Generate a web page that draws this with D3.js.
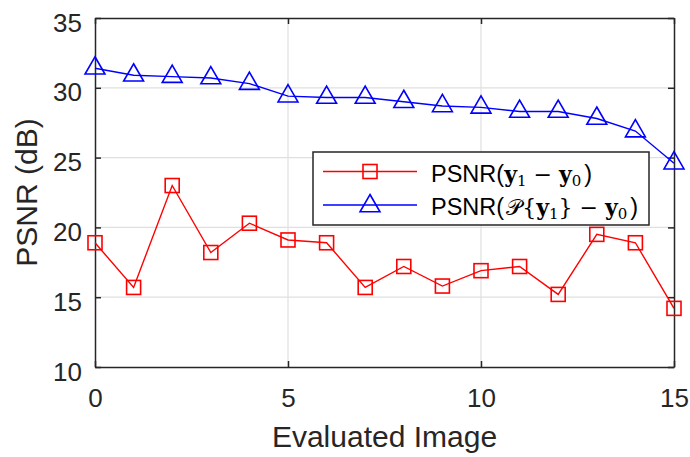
<!DOCTYPE html>
<html>
<head>
<meta charset="utf-8">
<script src="https://cdn.jsdelivr.net/npm/d3@7"></script>
<style>
  html, body { margin: 0; padding: 0; background: #fff; }
  svg { display: block; }
</style>
</head>
<body>
<svg id="chart" width="690" height="457"></svg>
<script>
// Evaluated image index and PSNR values (dB) for the two comparisons
const images = [0, 1, 2, 3, 4, 5, 6, 7, 8, 9, 10, 11, 12, 13, 14, 15];
const psnrDiff = [18.9, 15.7, 23.0, 18.2, 20.3, 19.1, 18.9, 15.7, 17.2, 15.8, 16.9, 17.2, 15.2, 19.5, 18.9, 14.2];
const psnrProj = [31.4, 30.9, 30.8, 30.7, 30.3, 29.4, 29.3, 29.3, 29.0, 28.7, 28.6, 28.3, 28.3, 27.8, 26.9, 24.6];
const xTicks = [0, 5, 10, 15];
const yTicks = [10, 15, 20, 25, 30, 35];
const xTitle = "Evaluated Image";
const yTitle = "PSNR (dB)";

const svg = d3.select("#chart");
const plotL = 95, plotR = 674, plotT = 18, plotB = 367;
const axisColor = "#262626";
const sans = "'Liberation Sans', Arial, Helvetica, sans-serif";
const serif = "'DejaVu Serif', 'Liberation Serif', serif";

const x = d3.scaleLinear().domain([0, 15]).range([plotL, plotR]);
const y = d3.scaleLinear().domain([10, 35]).range([plotB, plotT]);

// grid
const grid = svg.append("g").attr("stroke", "#e0e0e0").attr("stroke-width", 1.2);
grid.selectAll("line.gx").data(xTicks.slice(1, -1)).join("line")
  .attr("x1", d => x(d)).attr("x2", d => x(d)).attr("y1", plotT).attr("y2", plotB);
grid.selectAll("line.gy").data(yTicks.slice(1, -1)).join("line")
  .attr("y1", d => y(d)).attr("y2", d => y(d)).attr("x1", plotL).attr("x2", plotR);

// axes with inward ticks, boxed
function styleAxis(g) {
  g.select(".domain").attr("stroke", axisColor).attr("stroke-width", 1.5);
  g.selectAll(".tick line").attr("stroke", axisColor).attr("stroke-width", 1.5);
  g.selectAll(".tick text").attr("fill", axisColor).attr("font-family", sans).attr("font-size", 26);
}
svg.append("g").attr("transform", `translate(0,${plotB})`)
  .call(d3.axisBottom(x).tickValues(xTicks).tickSize(-6).tickSizeOuter(0).tickPadding(21.5).tickFormat(d3.format("d")))
  .call(styleAxis);
svg.append("g").attr("transform", `translate(0,${plotT})`)
  .call(d3.axisTop(x).tickValues(xTicks).tickSize(-6).tickSizeOuter(0).tickFormat(""))
  .call(styleAxis);
const yAxisG = svg.append("g").attr("transform", `translate(${plotL},0)`)
  .call(d3.axisLeft(y).tickValues(yTicks).tickSize(-6).tickSizeOuter(0).tickPadding(13).tickFormat(d3.format("d")))
  .call(styleAxis);
yAxisG.selectAll(".tick text").attr("dy", "0.5em");
svg.append("g").attr("transform", `translate(${plotR},0)`)
  .call(d3.axisRight(y).tickValues(yTicks).tickSize(-6).tickSizeOuter(0).tickFormat(""))
  .call(styleAxis);

// axis titles
svg.append("text").attr("x", (plotL + plotR) / 2).attr("y", 447)
  .attr("text-anchor", "middle").attr("font-family", sans).attr("font-size", 30)
  .attr("fill", axisColor).text(xTitle);
svg.append("text").attr("transform", `translate(37,${(plotT + plotB) / 2}) rotate(-90)`)
  .attr("text-anchor", "middle").attr("font-family", sans).attr("font-size", 30)
  .attr("fill", axisColor).text(yTitle);

// marker shapes
const sq = 14;
function square(g, cx, cy, color) {
  g.append("rect").attr("x", cx - sq / 2).attr("y", cy - sq / 2).attr("width", sq).attr("height", sq)
    .attr("fill", "none").attr("stroke", color).attr("stroke-width", 1.6);
}
const tr = 11.5;
function triangle(g, cx, cy, color) {
  const pts = [[cx, cy - tr], [cx + tr * 0.866, cy + tr / 2], [cx - tr * 0.866, cy + tr / 2]];
  g.append("polygon").attr("points", pts.map(p => p.join(",")).join(" "))
    .attr("fill", "none").attr("stroke", color).attr("stroke-width", 1.6);
}

const line = d3.line().x((d, i) => x(images[i])).y(d => y(d));

// series 1: red squares
const s1 = svg.append("g");
s1.append("path").datum(psnrDiff).attr("d", line).attr("fill", "none")
  .attr("stroke", "#ff0000").attr("stroke-width", 1.4);
psnrDiff.forEach((v, i) => square(s1, x(images[i]), y(v), "#ff0000"));

// series 2: blue triangles
const s2 = svg.append("g");
s2.append("path").datum(psnrProj).attr("d", line).attr("fill", "none")
  .attr("stroke", "#0000ff").attr("stroke-width", 1.4);
psnrProj.forEach((v, i) => triangle(s2, x(images[i]), y(v), "#0000ff"));

// legend
const lg = svg.append("g");
lg.append("rect").attr("x", 313).attr("y", 152).attr("width", 336).attr("height", 73)
  .attr("fill", "#fff").attr("stroke", axisColor).attr("stroke-width", 1.5);
const rows = [171.5, 205];
lg.append("line").attr("x1", 323).attr("x2", 417).attr("y1", rows[0]).attr("y2", rows[0])
  .attr("stroke", "#ff0000").attr("stroke-width", 1.4);
square(lg, 370, rows[0], "#ff0000");
lg.append("line").attr("x1", 323).attr("x2", 417).attr("y1", rows[1]).attr("y2", rows[1])
  .attr("stroke", "#0000ff").attr("stroke-width", 1.4);
triangle(lg, 370, rows[1] + 1, "#0000ff");

function legendText(yb, parts) {
  const t = lg.append("text").attr("x", 431).attr("y", yb).attr("fill", "#000").attr("font-size", 22);
  parts.forEach(p => {
    const s = t.append("tspan").text(p.t).attr("font-family", p.sans ? sans : serif);
    if (p.sans) s.attr("font-size", 23.5);
    if (p.b) s.attr("font-weight", "bold");
    if (p.sub) s.attr("font-size", 15);
    if (p.dy) s.attr("dy", p.dy);
    if (p.dx) s.attr("dx", p.dx);
  });
}
legendText(181.5, [
  { t: "PSNR(", sans: true },
  { t: "y", b: true },
  { t: "1", sub: true, dy: 4 },
  { t: " \u2212 ", dy: -4 },
  { t: "y", b: true },
  { t: "0", sub: true, dy: 4 },
  { t: ")", sans: true, dy: -4, dx: 3 }
]);
legendText(215, [
  { t: "PSNR(", sans: true },
  { t: "\uD835\uDCAB", dx: 2 },
  { t: "{" },
  { t: "y", b: true },
  { t: "1", sub: true, dy: 4 },
  { t: "}", dy: -4 },
  { t: " \u2212 " },
  { t: "y", b: true },
  { t: "0", sub: true, dy: 4 },
  { t: ")", sans: true, dy: -4, dx: 3 }
]);
</script>
</body>
</html>
